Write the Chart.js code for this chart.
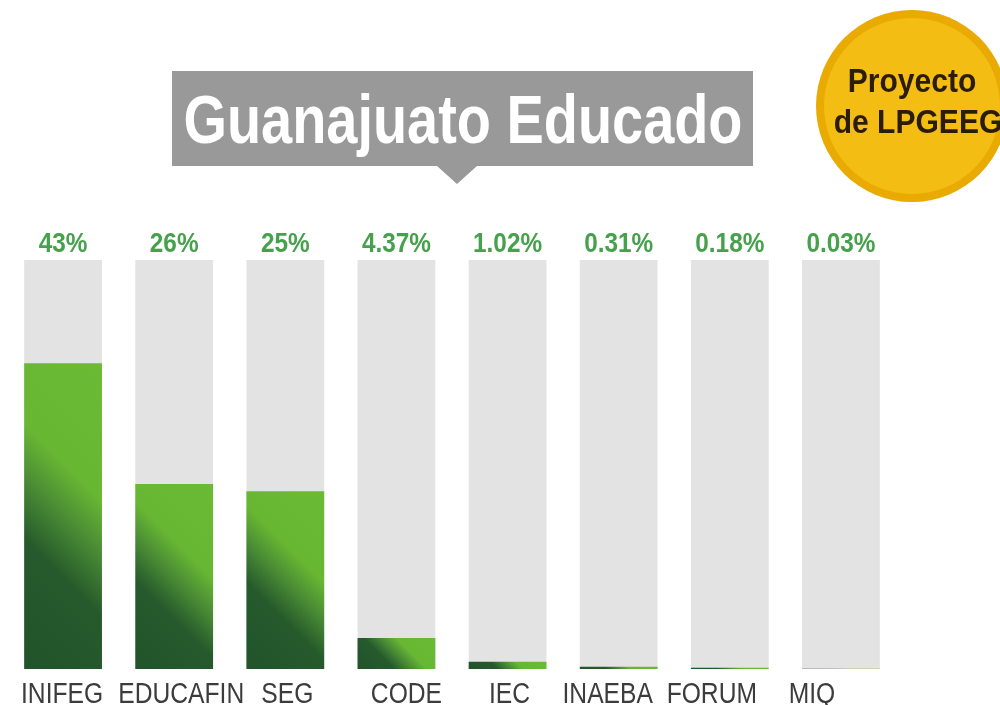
<!DOCTYPE html>
<html>
<head>
<meta charset="utf-8">
<script src="https://cdn.jsdelivr.net/npm/chart.js@4.4.1/dist/chart.umd.min.js"></script>
<style>
  html, body { margin: 0; padding: 0; background: #fff; }
  #wrap { width: 1000px; height: 705px; position: relative; }
</style>
</head>
<body>
<div id="wrap"><canvas id="chart"></canvas></div>
<script>
// data
const categories  = ['INIFEG', 'EDUCAFIN', 'SEG', 'CODE', 'IEC', 'INAEBA', 'FORUM', 'MIQ'];
const shares      = [43, 26, 25, 4.37, 1.02, 0.31, 0.18, 0.03];
const shareLabels = ['43%', '26%', '25%', '4.37%', '1.02%', '0.31%', '0.18%', '0.03%'];
const scaleMax    = 57.5;   // top of the grey tracks

const TITLE = 'Guanajuato Educado';
const BADGE = ['Proyecto', 'de LPGEEG'];

const FONT = '"Liberation Sans", Arial, sans-serif';
// the category names sit in loose text boxes, not exactly under each bar
const NAME_NUDGE = [-1, 7, 2, 10, 2, -11, -18, -29];

// text squeezed horizontally around (x, y) -- no Arial Narrow installed
function narrowText(ctx, text, x, y, sx) {
  ctx.save();
  ctx.translate(x, y);
  ctx.scale(sx, 1);
  ctx.fillText(text, 0, 0);
  ctx.restore();
}

// diagonal dark -> light green, per bar
function barGradient(c) {
  const chart = c.chart;
  if (!chart.chartArea || c.type !== 'data') return '#69b832';
  const xs = chart.scales.x, ys = chart.scales.y;
  const cx = xs.getPixelForValue(c.dataIndex);
  const half = (xs.getPixelForValue(1) - xs.getPixelForValue(0)) * 0.7 / 2;
  const left = cx - half, right = cx + half;
  const bottom = ys.getPixelForValue(0), top = ys.getPixelForValue(c.raw);
  const d = Math.max((right - top) - (left - bottom), 1);
  const g = chart.ctx.createLinearGradient(left, bottom, left + d / 2, bottom - d / 2);
  g.addColorStop(0, '#22532a');
  g.addColorStop(0.34, '#265a2c');
  g.addColorStop(0.5, '#4a8c35');
  g.addColorStop(0.64, '#68b733');
  g.addColorStop(1, '#6bba34');
  return g;
}

// percentage labels above the tracks + category names below
const barText = {
  id: 'barText',
  afterDatasetsDraw(chart) {
    const { ctx, chartArea, scales: { x } } = chart;
    ctx.save();
    ctx.textAlign = 'center';
    ctx.textBaseline = 'alphabetic';

    ctx.font = 'bold 28px ' + FONT;
    ctx.fillStyle = '#46a14c';
    shareLabels.forEach((t, i) => narrowText(ctx, t, x.getPixelForValue(i), chartArea.top - 8, 0.87));

    ctx.font = '29px ' + FONT;
    ctx.fillStyle = '#3c3c3c';
    chart.data.labels.forEach((t, i) =>
      narrowText(ctx, t, x.getPixelForValue(i) + NAME_NUDGE[i], chartArea.bottom + 34, 0.85));
    ctx.restore();
  }
};

// grey title callout + yellow badge
const decorations = {
  id: 'decorations',
  afterDraw(chart) {
    const ctx = chart.ctx;
    ctx.save();

    // title box
    ctx.fillStyle = '#999999';
    ctx.fillRect(172, 71, 581, 95);
    ctx.beginPath();
    ctx.moveTo(437, 166);
    ctx.lineTo(477, 166);
    ctx.lineTo(457, 184);
    ctx.closePath();
    ctx.fill();

    ctx.font = 'bold 68px ' + FONT;
    ctx.fillStyle = '#ffffff';
    ctx.textAlign = 'center';
    ctx.textBaseline = 'alphabetic';
    const sx = 559 / ctx.measureText(TITLE).width;
    narrowText(ctx, TITLE, 463, 143, sx);

    // badge
    ctx.beginPath();
    ctx.arc(912, 106, 96, 0, Math.PI * 2);
    ctx.fillStyle = '#e9ab02';
    ctx.fill();
    ctx.beginPath();
    ctx.arc(912, 106, 88, 0, Math.PI * 2);
    ctx.fillStyle = '#f4bd14';
    ctx.fill();

    ctx.font = 'bold 33px ' + FONT;
    ctx.fillStyle = '#2b1d05';
    narrowText(ctx, BADGE[0], 912, 92, 0.91);
    narrowText(ctx, BADGE[1], 918, 133, 0.91);

    ctx.restore();
  }
};

new Chart(document.getElementById('chart'), {
  type: 'bar',
  data: {
    labels: categories,
    datasets: [
      {
        data: shares,
        backgroundColor: barGradient,
        grouped: false,
        order: 0,
      },
      {
        data: categories.map(() => scaleMax),
        backgroundColor: '#e3e3e3',
        grouped: false,
        order: 1,
      }
    ]
  },
  options: {
    responsive: true,
    maintainAspectRatio: false,
    animation: false,
    barPercentage: 0.7,
    categoryPercentage: 1,
    layout: { padding: { left: 7.5, right: 103.5, top: 260, bottom: 0 } },
    plugins: {
      legend: { display: false },
      tooltip: { enabled: false },
    },
    scales: {
      x: {
        grid: { display: false },
        border: { display: false },
        ticks: { display: false },
        afterFit(scale) { scale.height = 36; }
      },
      y: {
        display: false,
        min: 0,
        max: scaleMax,
      }
    }
  },
  plugins: [barText, decorations]
});
</script>
</body>
</html>
